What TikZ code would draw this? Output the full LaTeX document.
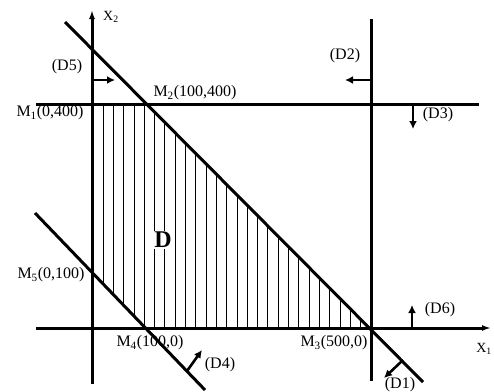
\documentclass[tikz,border=0pt]{standalone}
\usepackage{fontspec}
\setmainfont{Liberation Serif}
\usetikzlibrary{arrows.meta,positioning}

\begin{document}
\begin{tikzpicture}[x=1pt,y=-1pt,font=\fontsize{16}{18}\selectfont,
 thickline/.style={line width=3pt},
 hatch/.style={line width=0.8pt},
 axis/.style={line width=3pt,-{Latex[length=9pt,width=6pt]}},
 side/.style={line width=2.6pt,-{Latex[length=8pt,width=8pt]}},
 lbl/.style={inner sep=0pt}]
\useasboundingbox (0,0) rectangle (494,391);
\coordinate (M1) at (93,104);
\coordinate (M2) at (148,104);
\coordinate (M3) at (370,328);
\coordinate (M4) at (147,328);
\coordinate (M5) at (93,273);
\coordinate (x1s) at (36,328);
\coordinate (x1e) at (491,328);
\coordinate (x2s) at (92,384);
\coordinate (x2e) at (92,10);
\coordinate (d1s) at (65,22);
\coordinate (d1e) at (423,382);
\coordinate (d2s) at (371,19);
\coordinate (d2e) at (371,381);
\coordinate (d3s) at (36,104);
\coordinate (d3e) at (479,104);
\coordinate (d4s) at (35,213);
\coordinate (d4e) at (205,390);
\begin{scope}
 \clip (M1) -- (M2) -- (M3) -- (M4) -- (M5) -- cycle;
 \foreach \x in {103,113.3,...,368}
  \draw[hatch] (\x,100) -- (\x,332);
\end{scope}
\node[lbl,font=\fontsize{14}{16}\selectfont] (lx2) at (111,17) {X\textsubscript{2}};
\node[lbl,font=\fontsize{14}{16}\selectfont] (lx1) at (484,349) {X\textsubscript{1}};
\node[lbl] (lD5) at (67,67) {(D5)};
\node[lbl] (lM2) at (195,93) {M\textsubscript{2}(100,400)};
\node[lbl] (lM1) at (50,113) {M\textsubscript{1}(0,400)};
\node[lbl] (lD2) at (345,56) {(D2)};
\node[lbl] (lD3) at (438,115) {(D3)};
\node[lbl] (lM5) at (51,275) {M\textsubscript{5}(0,100)};
\node[lbl] (lM4) at (150,343) {M\textsubscript{4}(100,0)};
\node[lbl] (lD4) at (220,365) {(D4)};
\node[lbl] (lM3) at (334,343) {M\textsubscript{3}(500,0)};
\node[lbl] (lD6) at (440,310) {(D6)};
\node[lbl] (lD1) at (400,385) {(D1)};
\draw[axis] (x1s) -- (x1e);
\draw[axis] (x2s) -- (x2e);
\draw[thickline] (d1s) -- (d1e);
\draw[thickline] (d2s) -- (d2e);
\draw[thickline] (d3s) -- (d3e);
\draw[thickline] (d4s) -- (d4e);
\node[fill=white,inner sep=1pt,font=\fontsize{24}{26}\selectfont\bfseries] (D) at (163,240) {D};
\coordinate (a5) at (93,80);
\coordinate (a2) at (370,80);
\coordinate (a3) at (413,104);
\coordinate (a6) at (412,328);
\coordinate (a4) at (187,371);
\coordinate (a1) at (403,360);
\draw[side] (a5) -- ++(22,0);
\draw[side] (a2) -- ++(-25,0);
\draw[side] (a3) -- ++(0,25);
\draw[side] (a6) -- ++(0,-23);
\draw[side] (a4) -- ++(15,-21);
\draw[side] (a1) -- ++(-19,18);
\end{tikzpicture}
\end{document}
